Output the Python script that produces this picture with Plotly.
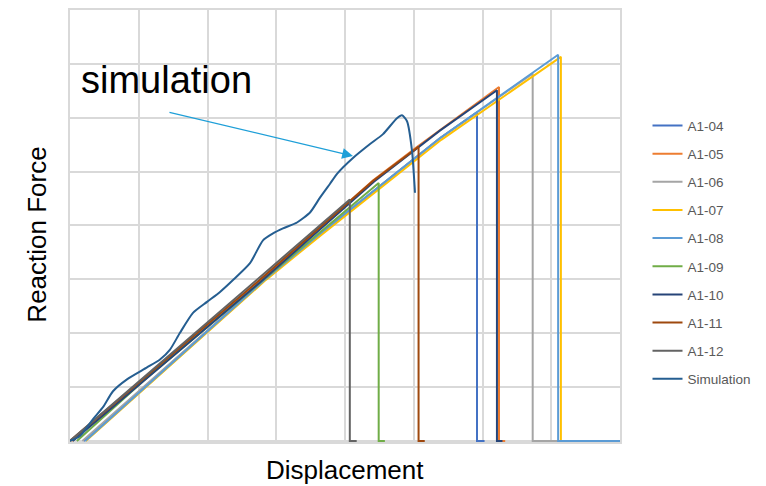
import plotly.graph_objects as go

# Reaction force vs displacement for specimens A1-04 .. A1-12 and the FE simulation
# (grid units: 8 divisions on each axis, no tick labels)

a104_x = [0.20, 2.84, 3.64, 5.38, 5.92, 5.92, 6.03]
a104_y = [0.00, 3.00, 3.85, 5.62, 6.10, 0.00, 0.00]

a105_x = [0.03, 2.76, 4.41, 5.06, 6.24, 6.24, 6.33]
a105_y = [0.00, 2.97, 4.84, 5.47, 6.57, 0.00, 0.00]

a106_x = [0.18, 2.84, 3.64, 5.38, 6.73, 6.73, 7.10]
a106_y = [0.00, 3.00, 3.85, 5.62, 6.82, 0.00, 0.00]

a107_x = [0.23, 2.85, 3.66, 5.40, 7.14, 7.14, 7.20]
a107_y = [0.00, 2.99, 3.83, 5.59, 7.13, 0.00, 0.00]

a108_x = [0.22, 2.84, 3.64, 5.38, 7.10, 7.10, 8.00]
a108_y = [0.00, 3.00, 3.85, 5.62, 7.17, 0.00, 0.00]

a109_x = [0.10, 1.09, 4.49, 4.49, 4.58]
a109_y = [0.00, 1.14, 4.79, 0.00, 0.00]

a110_x = [0.04, 2.77, 4.42, 5.06, 5.38, 6.21, 6.21, 6.29]
a110_y = [0.00, 2.95, 4.81, 5.44, 5.76, 6.51, 0.00, 0.00]

a111_x = [0.00, 2.76, 4.41, 5.07, 5.07, 5.16]
a111_y = [0.00, 2.99, 4.83, 5.46, 0.00, 0.00]

a112_x = [0.00, 4.07, 4.07, 4.17]
a112_y = [0.00, 4.48, 0.00, 0.00]

sim_x = [0.000, 0.145, 0.335, 0.480, 0.625, 0.829, 1.120, 1.309, 1.455, 1.600,
         1.789, 1.993, 2.182, 2.371, 2.618, 2.807, 2.953, 3.098, 3.302, 3.491,
         3.636, 3.782, 3.884, 4.116, 4.364, 4.553, 4.756, 4.829, 4.902, 4.975,
         5.018]
sim_y = [0.000, 0.092, 0.406, 0.627, 0.922, 1.143, 1.364, 1.512, 1.696, 2.009,
         2.378, 2.581, 2.765, 2.986, 3.300, 3.724, 3.853, 3.945, 4.055, 4.240,
         4.516, 4.774, 4.959, 5.253, 5.512, 5.696, 5.991, 6.046, 5.935, 5.382,
         4.608]

series = [
    ("A1-04", a104_x, a104_y, "#4472C4"),
    ("A1-05", a105_x, a105_y, "#ED7D31"),
    ("A1-06", a106_x, a106_y, "#A5A5A5"),
    ("A1-07", a107_x, a107_y, "#FFC000"),
    ("A1-08", a108_x, a108_y, "#5B9BD5"),
    ("A1-09", a109_x, a109_y, "#70AD47"),
    ("A1-10", a110_x, a110_y, "#264478"),
    ("A1-11", a111_x, a111_y, "#9E480E"),
    ("A1-12", a112_x, a112_y, "#636363"),
]

fig = go.Figure()
for name, xs, ys, color in series:
    fig.add_trace(go.Scatter(x=xs, y=ys, mode="lines", name=name,
                             legendgroup=name,
                             line=dict(color=color, width=2)))

fig.add_trace(go.Scatter(x=sim_x, y=sim_y, mode="lines", name="Simulation",
                         legendgroup="Simulation",
                         line=dict(color="#255E91", width=2, shape="spline",
                                   smoothing=0.6)))

grid = "#D9D9D9"
axis_common = dict(showgrid=True, gridcolor=grid, gridwidth=1.5,
                   dtick=1, tick0=0, showticklabels=False, ticks="",
                   zeroline=False, showline=True, linecolor=grid,
                   linewidth=1.5, mirror=True)

fig.update_layout(
    width=766, height=486,
    margin=dict(l=70, r=146, t=8, b=44),
    paper_bgcolor="white", plot_bgcolor="white",
    font=dict(family="Liberation Sans, Arial, sans-serif", color="#000000"),
    xaxis=dict(range=[0, 8], **axis_common),
    yaxis=dict(range=[-0.02, 8], **axis_common),
    showlegend=True,
    legend=dict(x=1.05, xanchor="left", y=0.768, yanchor="top",
                font=dict(family="Liberation Sans, Arial, sans-serif",
                          size=13.5, color="#595959"),
                tracegroupgap=7.6, itemwidth=30,
                bgcolor="rgba(0,0,0,0)"),
    annotations=[
        dict(text="Displacement", xref="paper", yref="paper",
             x=0.5, y=-0.064, xanchor="center", yanchor="middle",
             showarrow=False, font=dict(size=26)),
        dict(text="Reaction Force", xref="paper", yref="paper",
             x=-0.06, y=0.48, xanchor="center", yanchor="middle",
             textangle=-90, showarrow=False, font=dict(size=26)),
        dict(text="simulation", xref="paper", yref="paper",
             x=0.017, y=0.838, xanchor="left", yanchor="middle",
             showarrow=False, font=dict(size=38)),
        dict(text="", x=4.116, y=5.29, xref="x", yref="y",
             ax=-185, ay=-44, axref="pixel", ayref="pixel",
             showarrow=True, arrowhead=2, arrowsize=1.8, arrowwidth=1.2,
             arrowcolor="#1E9FD8"),
    ],
)

fig.write_html("out.html")
